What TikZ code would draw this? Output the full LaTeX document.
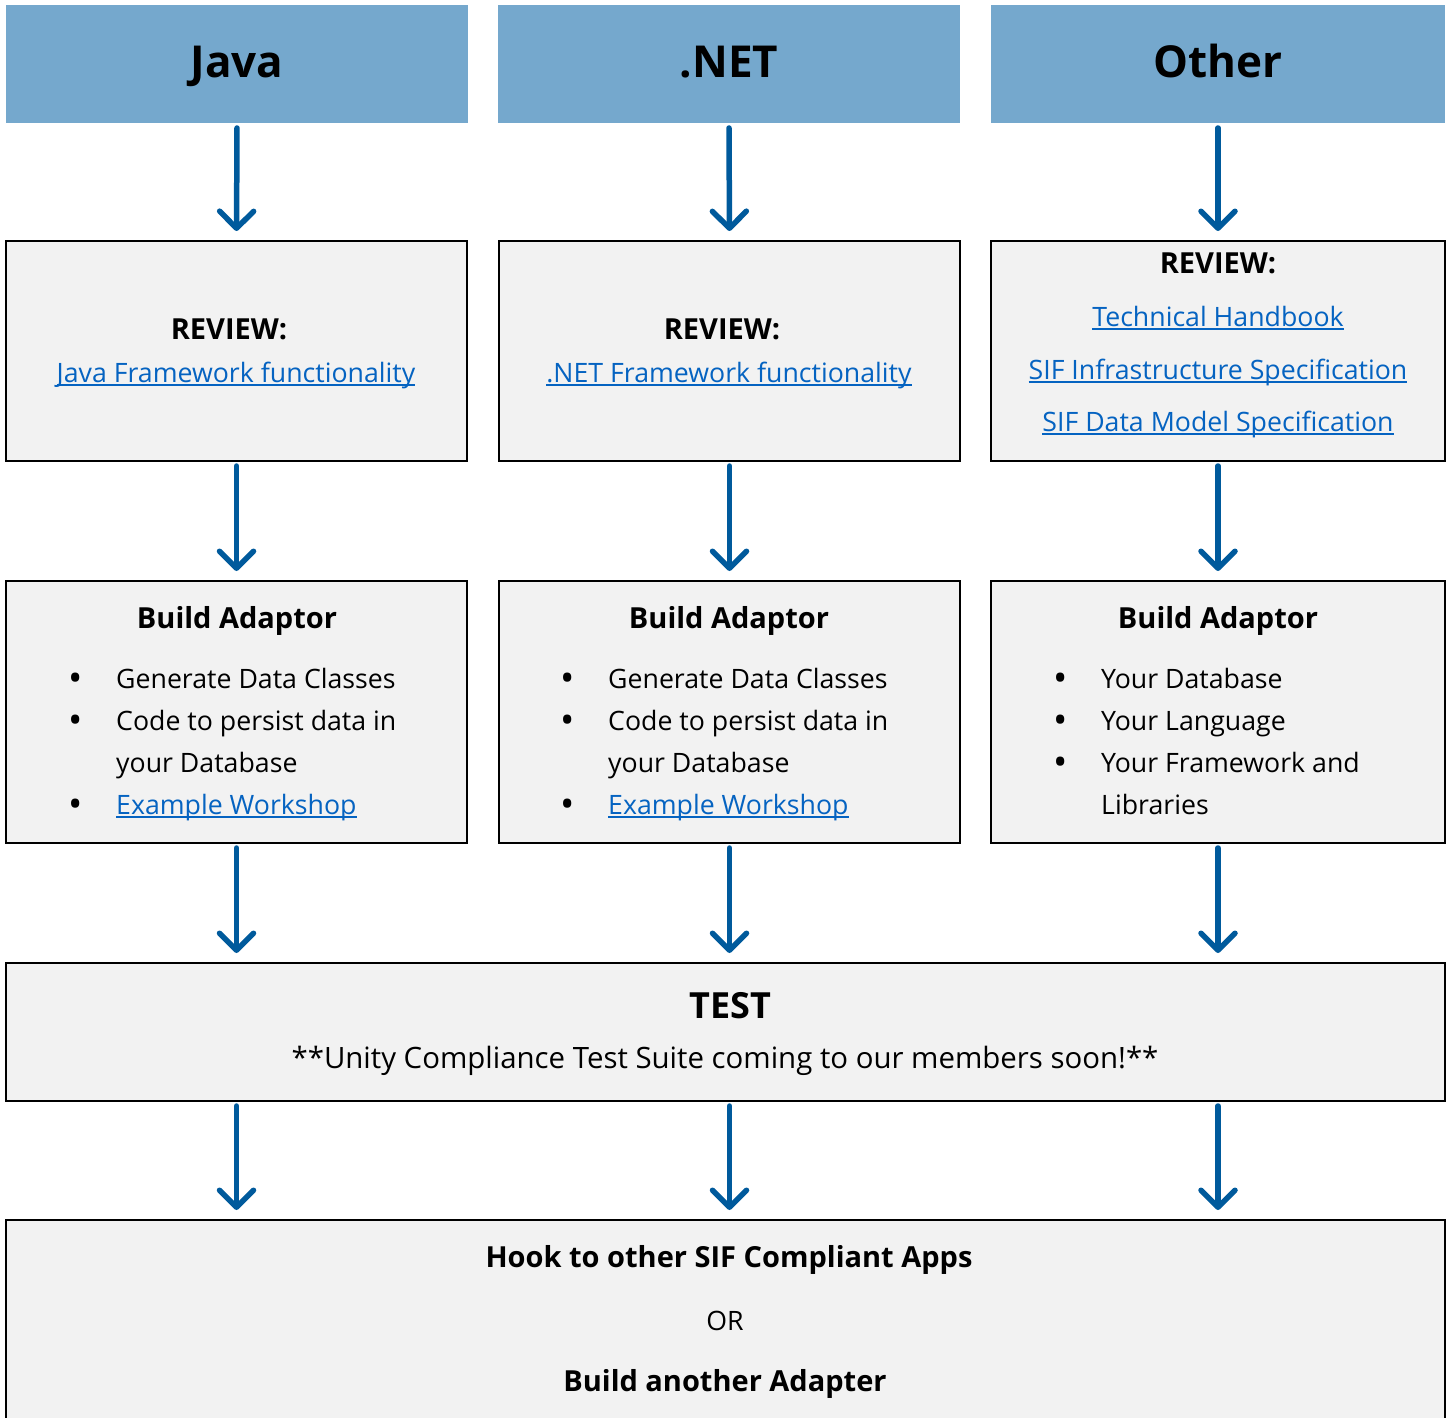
\documentclass[tikz,border=0pt]{standalone}
\usepackage{fontspec}
\setmainfont{Open Sans}
\usetikzlibrary{arrows.meta}

\definecolor{headblue}{RGB}{117,168,205}
\definecolor{arrowblue}{RGB}{0,90,156}
\definecolor{boxgray}{RGB}{242,242,242}
\definecolor{linkblue}{RGB}{5,99,193}

% underlined hyperlink look
\newcommand{\lnk}[1]{\textcolor{linkblue}{\setbox0=\hbox{#1}\rlap{\rule[-3.5pt]{\wd0}{1.4pt}}\box0}}
% bullet hanging left of the line
\newcommand{\bul}{\llap{\raisebox{-3.5pt}{\fontsize{38}{38}\selectfont\textbullet}\hspace{33pt}}}

\begin{document}
\begin{tikzpicture}[
    x=1pt, y=-1pt,
    >=Latex,
    arrow/.style={
        draw=arrowblue,
        line width=5.5pt,
        line cap=round,
        -{Straight Barb[length=17pt, width=34pt, round]},
        shorten <=5pt,
        shorten >=10pt
    },
    header/.style={
        fill=headblue,
        inner sep=0pt,
        outer sep=0pt,
        minimum width=462pt,
        minimum height=118pt
    },
    box/.style={
        draw=black,
        line width=2.2pt,
        fill=boxgray,
        inner sep=0pt,
        outer sep=0pt,
        minimum width=461pt
    },
    widebox/.style={
        box,
        minimum width=1439pt
    },
    title/.style={
        font=\fontsize{44}{50}\selectfont\bfseries,
        anchor=base,
        inner sep=0pt
    },
    head/.style={
        font=\fontsize{29}{34}\selectfont\bfseries,
        anchor=base,
        inner sep=0pt
    },
    body/.style={
        font=\fontsize{26.7}{31}\selectfont,
        anchor=base,
        inner sep=0pt
    },
    item/.style={
        body,
        anchor=base west
    }
]
\useasboundingbox (0,0) rectangle (1449,1418);

% Header row
\node[header] (java) at (237,64) {};
\node[header] (dotnet) at (729,64) {};
\node[header, minimum width=454pt] (other) at (1218,64) {};
\node[title] (javatitle) at (237,78) {Java};
\node[title] (dotnettitle) at (729,78) {.NET};
\node[title] (othertitle) at (1218,78) {Other};

% Review boxes
\node[box, minimum height=220pt] (javarev) at (236.5,351) {};
\node[box, minimum height=220pt] (dotnetrev) at (729.5,351) {};
\node[box, minimum height=220pt, minimum width=454pt] (otherrev) at (1218,351) {};

\node[head] (javarevhead) at (229,339) {REVIEW:};
\node[body] (javarevlink) at (236,382) {\lnk{Java Framework functionality}};
\node[head] (dotnetrevhead) at (722,339) {REVIEW:};
\node[body] (dotnetrevlink) at (729,382) {\lnk{.NET Framework functionality}};

\node[head] (otherrevhead) at (1218,273) {REVIEW:};
\node[body] (otherlinkone) at (1218,326) {\lnk{Technical Handbook}};
\node[body] (otherlinktwo) at (1218,379) {\lnk{SIF Infrastructure Specification}};
\node[body] (otherlinkthree) at (1218,431) {\lnk{SIF Data Model Specification}};

% Build boxes
\node[box, minimum height=262pt] (javabuild) at (236.5,712) {};
\node[box, minimum height=262pt] (dotnetbuild) at (729.5,712) {};
\node[box, minimum height=262pt, minimum width=454pt] (otherbuild) at (1218,712) {};

\node[head] (javabuildhead) at (237,628) {Build Adaptor};
\node[item] (javaitemone) at (116,688) {\bul Generate Data Classes};
\node[item] (javaitemtwo) at (116,730) {\bul Code to persist data in};
\node[item] (javaitemthree) at (116,772) {your Database};
\node[item] (javaitemfour) at (116,814) {\bul\lnk{Example Workshop}};

\node[head] (dotnetbuildhead) at (729,628) {Build Adaptor};
\node[item] (dotnetitemone) at (608,688) {\bul Generate Data Classes};
\node[item] (dotnetitemtwo) at (608,730) {\bul Code to persist data in};
\node[item] (dotnetitemthree) at (608,772) {your Database};
\node[item] (dotnetitemfour) at (608,814) {\bul\lnk{Example Workshop}};

\node[head] (otherbuildhead) at (1218,628) {Build Adaptor};
\node[item] (otheritemone) at (1101,688) {\bul Your Database};
\node[item] (otheritemtwo) at (1101,730) {\bul Your Language};
\node[item] (otheritemthree) at (1101,772) {\bul Your Framework and};
\node[item] (otheritemfour) at (1101,814) {Libraries};

% Test box
\node[widebox, minimum height=138pt] (test) at (725.5,1032) {};
\node[font=\fontsize{36}{42}\selectfont\bfseries, anchor=base, inner sep=0pt] (testhead) at (730,1018) {TEST};
\node[body, font=\fontsize{29.4}{34}\selectfont] (testnote) at (725,1068) {**Unity Compliance Test Suite coming to our members soon!**};

% Final box (runs past the bottom edge)
\node[widebox, minimum height=224pt] (hook) at (725.5,1332) {};
\node[head] (hookone) at (729,1267) {Hook to other SIF Compliant Apps};
\node[body] (hookor) at (725,1330) {OR};
\node[head] (hooktwo) at (725,1391) {Build another Adapter};

% Arrows
\draw[arrow] (java.south) -- (javarev.north);
\draw[arrow] (dotnet.south) -- (dotnetrev.north);
\draw[arrow] (other.south) -- (otherrev.north);

\draw[arrow] (javarev.south) -- (javabuild.north);
\draw[arrow] (dotnetrev.south) -- (dotnetbuild.north);
\draw[arrow] (otherrev.south) -- (otherbuild.north);

\draw[arrow] (javabuild.south) -- (javabuild.south |- test.north);
\draw[arrow] (dotnetbuild.south) -- (dotnetbuild.south |- test.north);
\draw[arrow] (otherbuild.south) -- (otherbuild.south |- test.north);

\draw[arrow] (test.south -| javabuild.south) -- (hook.north -| javabuild.south);
\draw[arrow] (test.south -| dotnetbuild.south) -- (hook.north -| dotnetbuild.south);
\draw[arrow] (test.south -| otherbuild.south) -- (hook.north -| otherbuild.south);

\end{tikzpicture}
\end{document}
